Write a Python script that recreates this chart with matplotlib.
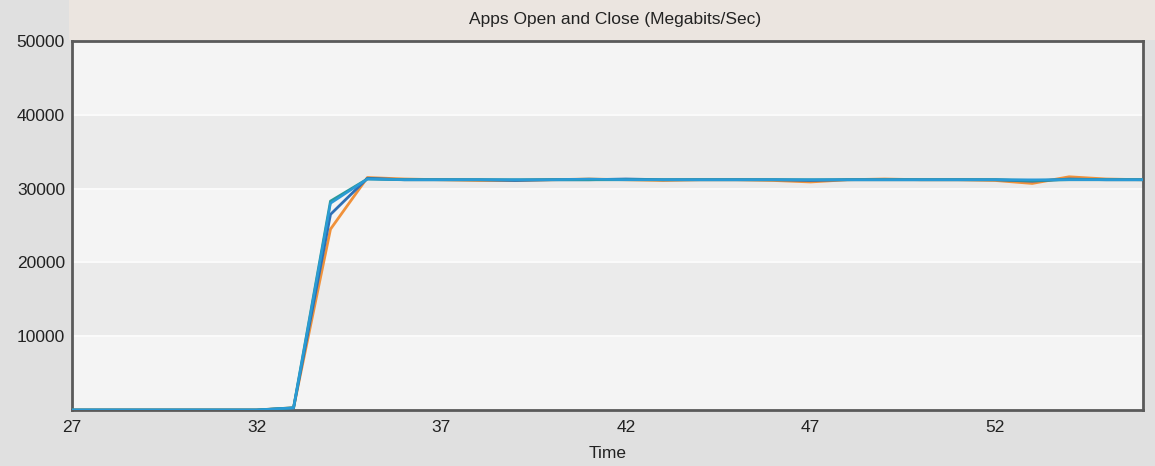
import matplotlib.pyplot as plt
from matplotlib.patches import Rectangle

plt.rcParams["font.family"] = ["Liberation Sans", "DejaVu Sans"]

time = list(range(27, 57))

series_orange = [
    0, 0, 0, 0, 0, 0, 300, 24500, 31500,
    31300, 31200, 31100, 31100, 31200, 31300, 31200, 31100, 31200,
    31200, 31100, 30900, 31200, 31300, 31200, 31200, 31100, 30700,
    31600, 31300, 31200,
]
series_blue = [
    0, 0, 0, 0, 0, 0, 250, 26500, 31400,
    31200, 31200, 31200, 31100, 31200, 31200, 31300, 31200, 31200,
    31200, 31200, 31100, 31200, 31200, 31200, 31200, 31200, 31000,
    31300, 31200, 31200,
]
series_teal = [
    0, 0, 0, 0, 0, 0, 300, 28300, 31300,
    31200, 31200, 31200, 31200, 31200, 31200, 31200, 31200, 31200,
    31200, 31200, 31200, 31200, 31200, 31200, 31200, 31200, 31100,
    31200, 31200, 31200,
]
series_light = [
    0, 0, 0, 0, 0, 0, 300, 28000, 31300,
    31200, 31200, 31200, 31200, 31200, 31300, 31200, 31200, 31200,
    31200, 31200, 31200, 31200, 31200, 31200, 31200, 31200, 31200,
    31200, 31200, 31200,
]

x_ticks = [27, 32, 37, 42, 47, 52]
y_ticks = [10000, 20000, 30000, 40000, 50000]
band_edges = [0, 10000, 20000, 30000, 40000, 50000]

fig = plt.figure(figsize=(11.55, 4.66), dpi=100, facecolor="#e0e0e0")
fig.patches.append(
    Rectangle((0.06, 0.915), 0.94, 0.085, transform=fig.transFigure,
              facecolor="#ebe5e0", edgecolor="none", zorder=-1)
)
ax = fig.add_axes([0.0623, 0.1202, 0.9273, 0.7918])
ax.set_zorder(2)
ax.set_facecolor("#f4f4f4")

band_colors = ["#f4f4f4", "#ebebeb"]
for i in range(len(band_edges) - 1):
    ax.axhspan(band_edges[i], band_edges[i + 1],
               color=band_colors[i % 2], zorder=0, lw=0)
for y in y_ticks[:-1]:
    ax.axhline(y, color="#fafafa", lw=1.5, zorder=1)

ax.plot(time, series_orange, color="#f0913a", lw=2, zorder=3)
ax.plot(time, series_blue, color="#2f6fb5", lw=2, zorder=4)
ax.plot(time, series_teal, color="#2a9a9c", lw=2, zorder=5)
ax.plot(time, series_light, color="#2a9ad6", lw=1.8, zorder=6)

ax.set_xlim(27, 56)
ax.set_ylim(0, 50000)
ax.set_xticks(x_ticks)
ax.set_yticks(y_ticks)
ax.tick_params(length=0, labelsize=12.5, colors="#222222")
ax.tick_params(axis="x", pad=7)
ax.tick_params(axis="y", pad=5)

for spine in ax.spines.values():
    spine.set_color("#5a5a5a")
    spine.set_linewidth(2)

ax.set_title("Apps Open and Close (Megabits/Sec)", fontsize=12.5,
             color="#222222", pad=12, x=0.507)
ax.set_xlabel("Time", fontsize=12.5, color="#222222", labelpad=8)

fig.savefig("out.png", dpi=100, facecolor=fig.get_facecolor())
